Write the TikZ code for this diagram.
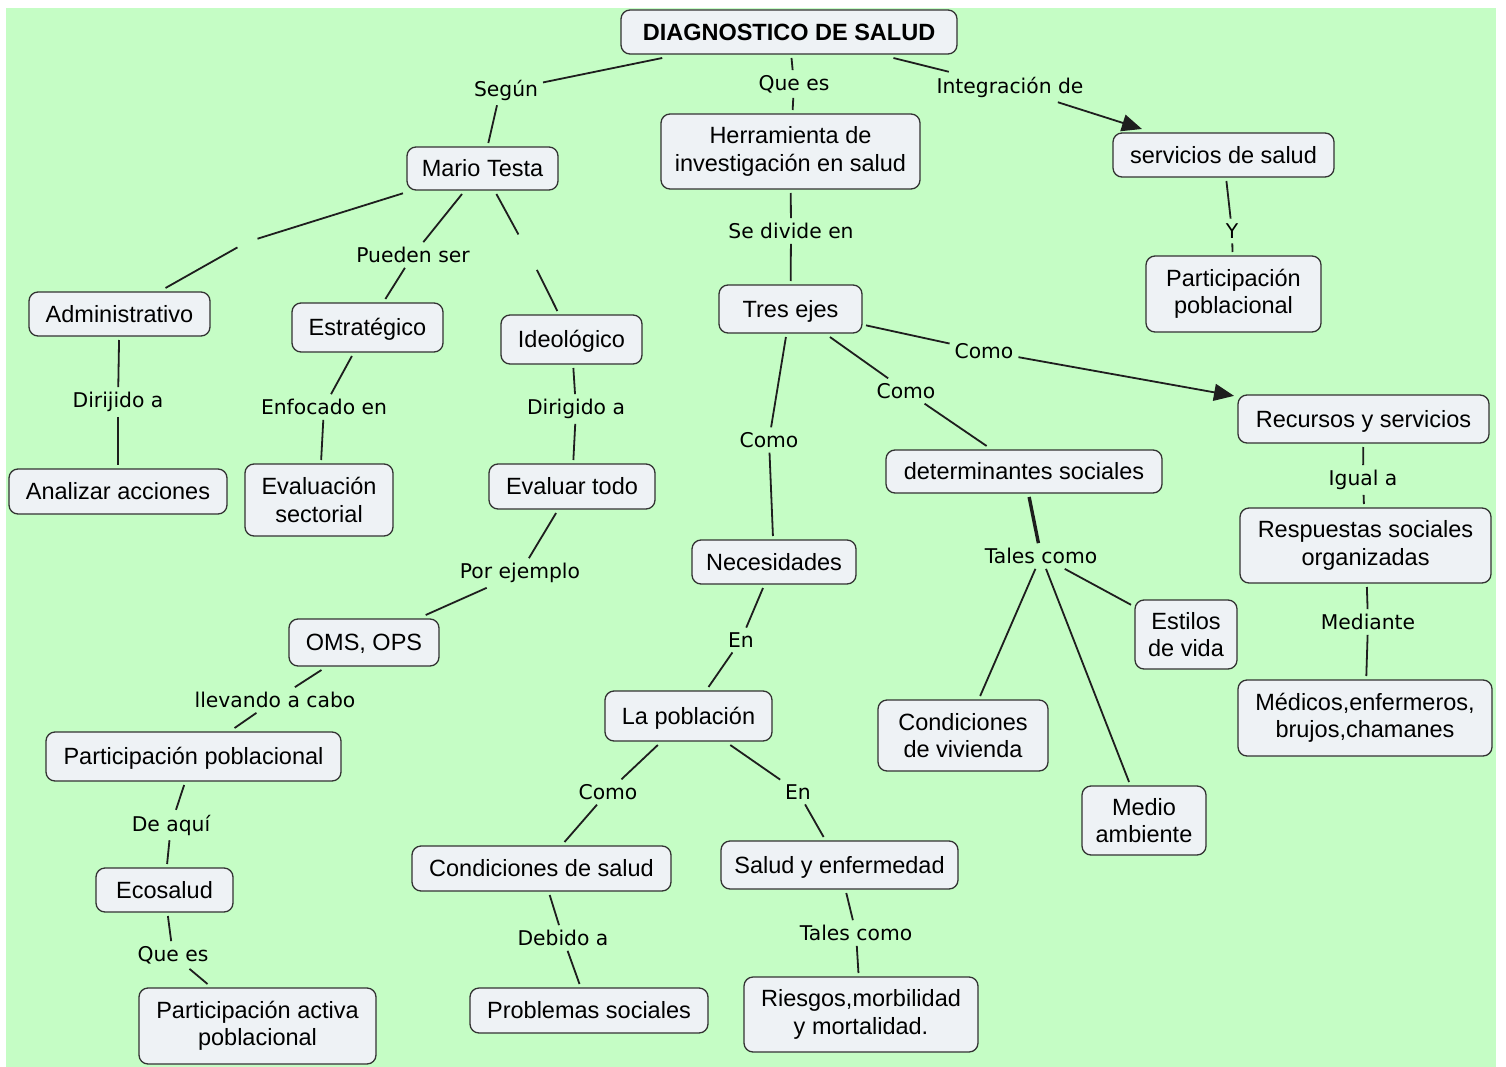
\documentclass[tikz,border=0pt]{standalone}
\usepackage{fontspec}
\setmainfont{Liberation Sans}
\newfontfamily\lblfont{DejaVu Sans}
\usetikzlibrary{arrows.meta}
\definecolor{bg}{RGB}{197,253,197}
\definecolor{nodefill}{RGB}{238,242,245}
\definecolor{edgecol}{RGB}{30,30,30}
\begin{document}
\begin{tikzpicture}[x=1pt,y=-1pt,
 concept/.style={draw=black!80, line width=1.3pt, fill=nodefill, rounded corners=9pt,
   font=\fontsize{23.5}{27.5}\selectfont, align=center, inner sep=0pt, outer sep=4pt},
 sl/.style={concept, text height=16.8pt, text depth=0pt},
 titlenode/.style={font=\bfseries\fontsize{23.5}{27.5}\selectfont},
 lbl/.style={font=\lblfont\fontsize{20.3}{24}\selectfont, inner sep=4pt, outer sep=1pt, yshift=-2pt},
 conn/.style={draw=edgecol, line width=1.8pt},
 thickconn/.style={draw=edgecol, line width=3.4pt},
 arr/.style={conn, -{Triangle[length=20pt,width=17pt]}},
 gap/.style={circle, inner sep=0pt, outer sep=0pt}]
\useasboundingbox (0,0) rectangle (1506,1067);
\fill[bg] (6,8) rectangle (1496,1067);

% concepts
\node[sl, titlenode, minimum width=336pt, minimum height=44pt] (diag) at (789,32) {DIAGNOSTICO DE SALUD};
\node[sl, minimum width=151pt, minimum height=43pt] (mario) at (482.5,168.5) {Mario Testa};
\node[concept, minimum width=259pt, minimum height=75pt] (herr) at (790.5,151.5) {Herramienta de\\investigación en salud};
\node[sl, minimum width=221pt, minimum height=44pt] (serv) at (1223.5,155) {servicios de salud};
\node[concept, minimum width=175pt, minimum height=76pt] (partR) at (1233.5,294) {Participación\\poblacional};
\node[sl, minimum width=181pt, minimum height=44pt] (admin) at (119.5,314) {Administrativo};
\node[sl, minimum width=151pt, minimum height=49pt] (estr) at (367.5,327.5) {Estratégico};
\node[sl, minimum width=141pt, minimum height=49pt] (ideo) at (571.5,339.5) {Ideológico};
\node[sl, minimum width=143pt, minimum height=48pt] (tres) at (790.5,309) {Tres ejes};
\node[sl, minimum width=251pt, minimum height=48pt] (recur) at (1363.5,419) {Recursos y servicios};
\node[sl, minimum width=218pt, minimum height=45pt] (anal) at (118,491.5) {Analizar acciones};
\node[concept, minimum width=148pt, minimum height=72pt] (evals) at (319,500) {Evaluación\\sectorial};
\node[sl, minimum width=166pt, minimum height=45pt] (evalt) at (572,486.5) {Evaluar todo};
\node[sl, minimum width=276pt, minimum height=43pt] (deter) at (1024,471.5) {determinantes sociales};
\node[concept, minimum width=251pt, minimum height=75pt] (resp) at (1365.5,545.5) {Respuestas sociales\\organizadas};
\node[sl, minimum width=164pt, minimum height=44pt] (nec) at (774,562) {Necesidades};
\node[concept, minimum width=102pt, minimum height=69pt] (estil) at (1186,634.5) {Estilos\\de vida};
\node[sl, minimum width=150pt, minimum height=47pt] (oms) at (364,642.5) {OMS, OPS};
\node[concept, minimum width=254pt, minimum height=76pt] (med) at (1365,718) {Médicos,enfermeros,\\brujos,chamanes};
\node[sl, minimum width=167pt, minimum height=50pt] (lapob) at (688.5,716) {La población};
\node[concept, minimum width=170pt, minimum height=71pt] (condv) at (963,735.5) {Condiciones\\de vivienda};
\node[sl, minimum width=295pt, minimum height=49pt] (partL) at (193.5,756.5) {Participación poblacional};
\node[concept, minimum width=124pt, minimum height=69pt] (medio) at (1144,820.5) {Medio\\ambiente};
\node[sl, minimum width=259pt, minimum height=45pt] (conds) at (541.5,868.5) {Condiciones de salud};
\node[sl, minimum width=237pt, minimum height=48pt] (salud) at (839.5,865) {Salud y enfermedad};
\node[sl, minimum width=137pt, minimum height=44pt] (eco) at (164.5,890) {Ecosalud};
\node[sl, minimum width=238pt, minimum height=45pt] (prob) at (589,1010.5) {Problemas sociales};
\node[concept, minimum width=234pt, minimum height=75pt] (ries) at (861,1014.5) {Riesgos,morbilidad\\y mortalidad.};
\node[concept, minimum width=237pt, minimum height=76pt] (partA) at (257.5,1026) {Participación activa\\poblacional};

% linking phrases
\node[lbl] (lsegun) at (506,88) {Según};
\node[lbl] (lquees) at (794,82) {Que es};
\node[lbl] (linteg) at (1010,85) {Integración de};
\node[lbl] (lpueden) at (413,253) {Pueden ser};
\node[lbl] (ldivide) at (791,229) {Se divide en};
\node[lbl] (ly) at (1232,229) {Y};
\node[lbl] (ldirij) at (118,400) {Dirijido a};
\node[lbl] (lenfoc) at (324,405) {Enfocado en};
\node[lbl] (ldirig) at (576,407) {Dirigido a};
\node[lbl] (lcomoA) at (984,349) {Como};
\node[lbl] (lcomoB) at (906,389) {Como};
\node[lbl] (lcomoC) at (769,438) {Como};
\node[lbl] (ligual) at (1363,478) {Igual a};
\node[lbl] (ltalesA) at (1041,554) {Tales como};
\node[lbl] (lejemplo) at (520,571) {Por ejemplo};
\node[lbl] (lmediante) at (1368,620) {Mediante};
\node[lbl] (lenA) at (741,638) {En};
\node[lbl] (lllevando) at (275,698) {llevando a cabo};
\node[lbl] (laqui) at (171,823) {De aquí};
\node[lbl] (lcomoD) at (608,790) {Como};
\node[lbl] (lenB) at (798,790) {En};
\node[lbl] (ldebido) at (563,936) {Debido a};
\node[lbl] (ltalesB) at (856,931) {Tales como};
\node[lbl] (lqueesB) at (173,953) {Que es};
\node[gap, minimum size=22pt] (gA) at (247,242) {};
\node[gap, minimum size=40pt] (gI) at (528,252) {};

% connectors
\draw[conn] (diag) -- (lsegun);
\draw[conn] ([xshift=-9pt]lsegun.south) -- (mario);
\draw[conn] (diag) -- (lquees);
\draw[conn] (lquees) -- (herr);
\draw[conn] (diag) -- (linteg);
\draw[arr] (linteg) -- (serv);
\draw[conn] (mario) -- (gA);
\draw[conn] (gA) -- (admin);
\draw[conn] (mario) -- (lpueden);
\draw[conn] (lpueden) -- (estr);
\draw[conn] (mario) -- (gI);
\draw[conn] (gI) -- (ideo);
\draw[conn] (herr) -- (ldivide);
\draw[conn] (ldivide) -- (tres);
\draw[conn] (serv) -- (ly);
\draw[conn] (ly) -- (partR);
\draw[conn] (admin) -- (ldirij);
\draw[conn] (ldirij) -- (anal);
\draw[conn] (estr) -- (lenfoc);
\draw[conn] (lenfoc) -- (evals);
\draw[conn] (ideo) -- (ldirig);
\draw[conn] (ldirig) -- (evalt);
\draw[conn] (tres) -- (lcomoA);
\draw[arr] (lcomoA) -- (recur);
\draw[conn] (tres) -- (lcomoB);
\draw[conn] (lcomoB) -- (deter);
\draw[conn] (tres) -- (lcomoC);
\draw[conn] (lcomoC) -- (nec);
\draw[conn] (recur) -- (ligual);
\draw[conn] (ligual) -- (resp);
\draw[thickconn] (deter) -- (ltalesA);
\draw[conn] (ltalesA) -- (condv);
\draw[conn] (ltalesA) -- (medio);
\draw[conn] (ltalesA) -- (estil);
\draw[conn] (evalt) -- (lejemplo);
\draw[conn] (lejemplo) -- (oms);
\draw[conn] (resp) -- (lmediante);
\draw[conn] (lmediante) -- (med);
\draw[conn] (nec) -- (lenA);
\draw[conn] (lenA) -- (lapob);
\draw[conn] (oms) -- (lllevando);
\draw[conn] (lllevando) -- (partL);
\draw[conn] (partL) -- (laqui);
\draw[conn] (laqui) -- (eco);
\draw[conn] (lapob) -- (lcomoD);
\draw[conn] (lcomoD) -- (conds);
\draw[conn] (lapob) -- (lenB);
\draw[conn] (lenB) -- (salud);
\draw[conn] (conds) -- (ldebido);
\draw[conn] (ldebido) -- (prob);
\draw[conn] (salud) -- (ltalesB);
\draw[conn] (ltalesB) -- (ries);
\draw[conn] (eco) -- (lqueesB);
\draw[conn] (lqueesB) -- (partA);
\end{tikzpicture}
\end{document}
